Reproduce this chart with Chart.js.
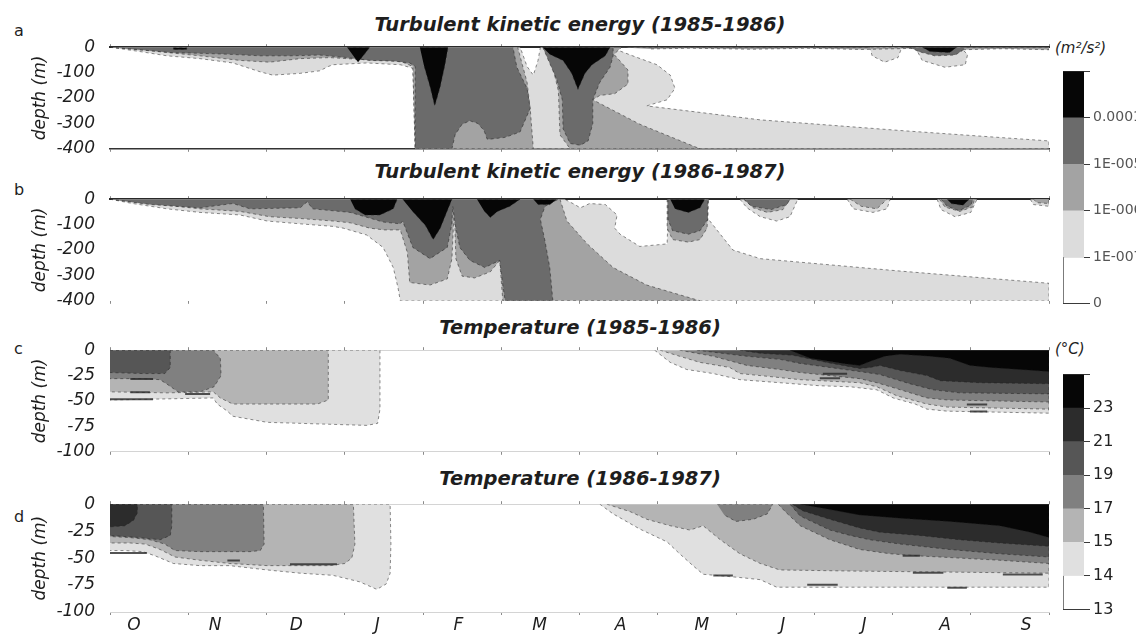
<!DOCTYPE html>
<html>
<head>
<meta charset="utf-8">
<script src="https://cdn.jsdelivr.net/npm/chart.js@4.4.1/dist/chart.umd.min.js"></script>
<style>
  html, body { margin: 0; padding: 0; background: #fff; }
  body { width: 1136px; height: 637px; position: relative; overflow: hidden; font-family: "DejaVu Sans", sans-serif; color: #1e1e1e; }
  .abs { position: absolute; }
  .title { left: 110px; width: 940px; text-align: center; font: italic bold 19.5px/19.5px "DejaVu Sans", sans-serif; white-space: nowrap; }
  .letter { left: 14px; font: 16px/16px "DejaVu Sans", sans-serif; }
  .unit { left: 1055px; font: italic 15px/15px "DejaVu Sans", sans-serif; white-space: nowrap; }
</style>
</head>
<body>
<div class="abs letter" style="top:23px">a</div>
<div class="abs letter" style="top:182px">b</div>
<div class="abs letter" style="top:341px">c</div>
<div class="abs letter" style="top:509px">d</div>

<div class="abs title" style="top:15px">Turbulent kinetic energy (1985-1986)</div>
<div class="abs title" style="top:162px">Turbulent kinetic energy (1986-1987)</div>
<div class="abs title" style="top:318px">Temperature (1985-1986)</div>
<div class="abs title" style="top:469px">Temperature (1986-1987)</div>

<div class="abs unit" style="top:41px">(m²/s²)</div>
<div class="abs unit" style="top:342px">(°C)</div>

<div class="abs" style="left:0;top:30px"><canvas id="panelA" width="1060" height="136"></canvas></div>
<div class="abs" style="left:0;top:182px"><canvas id="panelB" width="1060" height="136"></canvas></div>
<div class="abs" style="left:0;top:333px"><canvas id="panelC" width="1060" height="136"></canvas></div>
<div class="abs" style="left:0;top:487px"><canvas id="panelD" width="1060" height="150"></canvas></div>
<div class="abs" style="left:1040px;top:60px"><canvas id="barTke" width="96" height="255"></canvas></div>
<div class="abs" style="left:1040px;top:362px"><canvas id="barTemp" width="96" height="260"></canvas></div>

<script>
// ---- axis labels ----
const monthLabels = ['O', 'N', 'D', 'J', 'F', 'M', 'A', 'M', 'J', 'J', 'A', 'S'];
const tkeBarLabels = ['0', '1E-007', '1E-006', '1E-005', '0.0001'];
const tempBarLabels = ['13', '14', '15', '17', '19', '21', '23'];

// grey shades per contour class (index 0 = below the lowest level)
const tkeShades = ['#ffffff', '#dcdcdc', '#a3a3a3', '#6b6b6b', '#060606'];
const tempShades = ['#ffffff', '#e0e0e0', '#b4b4b4', '#808080', '#565656', '#2c2c2c', '#060606'];

// ---- contour outlines: [months since 1 October, depth in m] ----
// TKE 1985-1986
const tkeA_1_main = [[0,0],[0.38,-17],[0.73,-34],[1.15,-45],[1.57,-62],[1.92,-97],[2.08,-110],[2.43,-103],[2.68,-93],[2.79,-76],[2.85,-69],[3.28,-62],[3.71,-69],[3.87,-83],[3.90,-400],[12,-400],[12,-369],[10.10,-328],[8.31,-286],[6.86,-231],[7.12,-207],[7.22,-162],[7.16,-110],[6.99,-69],[6.68,-34],[6.45,-7],[6.43,0],[5.50,0],[5.47,-52],[5.41,-110],[5.33,-76],[5.27,-24],[5.24,0]];
const tkeA_1_e1 = [[9.71,0],[9.74,-34],[9.90,-59],[10.07,-41],[10.12,0]];
const tkeA_1_e2 = [[10.29,0],[10.38,-52],[10.67,-79],[10.93,-69],[10.96,-28],[10.86,0]];
const tkeA_2_main = [[0,0],[0.51,-14],[1.15,-34],[1.66,-52],[2.04,-59],[2.43,-45],[2.81,-41],[3.19,-48],[3.71,-55],[3.87,-76],[3.90,-400],[5.41,-400],[5.37,-241],[5.33,-138],[5.27,-69],[5.21,0]];
const tkeA_2_spike = [[5.56,0],[5.65,-69],[5.73,-172],[5.75,-345],[5.88,-400],[7.54,-400],[6.77,-303],[6.17,-207],[6.26,-190],[6.45,-183],[6.62,-145],[6.62,-90],[6.52,-55],[6.44,-28],[6.54,0]];
const tkeA_2_surf = [[6.5,0],[12,0],[12,-10],[11.4,-6],[10.9,-10],[10.2,-5],[9.6,-9],[8.9,-4],[8.2,-8],[7.4,-4],[6.9,-7]];
const tkeA_3_main = [[0,0],[0.38,-10],[0.77,-21],[1.15,-24],[1.53,-28],[1.92,-34],[2.30,-34],[2.68,-31],[3.03,-41],[3.32,-52],[3.64,-55],[3.83,-62],[3.90,-76],[3.90,-400],[4.37,-400],[4.41,-345],[4.50,-303],[4.60,-290],[4.70,-300],[4.78,-328],[4.82,-362],[4.86,-362],[5.05,-355],[5.24,-334],[5.37,-241],[5.33,-162],[5.20,-79],[5.15,0]];
const tkeA_3_spike = [[5.53,0],[5.71,-128],[5.78,-207],[5.79,-321],[5.88,-379],[6.01,-386],[6.11,-369],[6.17,-300],[6.17,-207],[6.26,-138],[6.39,-79],[6.43,-34],[6.43,0]];
const tkeA_3_e = [[10.22,0],[10.33,-17],[10.54,-34],[10.80,-31],[10.89,-14],[10.93,0]];
const tkeA_4_a = [[3.03,0],[3.32,0],[3.17,-59]];
const tkeA_4_b = [[0.81,-2],[0.98,-2],[0.98,-9],[0.81,-9]];
const tkeA_4_c = [[3.96,0],[4.32,0],[4.28,-69],[4.22,-155],[4.15,-231],[4.09,-155],[4.01,-69]];
const tkeA_4_d = [[5.53,0],[6.39,0],[6.33,-34],[6.16,-69],[6.07,-103],[5.98,-166],[5.90,-103],[5.79,-52],[5.62,-28]];
const tkeA_4_e = [[10.38,0],[10.48,-17],[10.73,-21],[10.82,0]];

// TKE 1986-1987
const tkeB_1_main = [[0,0],[0.29,-17],[0.73,-38],[1.15,-52],[1.66,-62],[2.01,-86],[2.43,-97],[2.85,-107],[2.98,-114],[3.28,-141],[3.49,-190],[3.62,-269],[3.68,-348],[3.71,-400],[12,-400],[12,-331],[10.10,-283],[8.31,-234],[7.96,-200],[7.80,-138],[7.63,-72],[7.62,0],[7.16,0],[7.13,-79],[7.12,-176],[6.77,-186],[6.52,-138],[6.45,-114],[6.48,-62],[6.33,-21],[6.13,-17],[6.01,-34],[5.94,-21],[5.81,0]];
const tkeB_1_e1 = [[8.05,0],[8.14,-34],[8.31,-69],[8.52,-86],[8.69,-69],[8.79,0]];
const tkeB_1_e2 = [[9.42,0],[9.50,-38],[9.75,-52],[9.93,-38],[9.97,0]];
const tkeB_1_e3 = [[10.57,0],[10.62,-41],[10.80,-69],[11.00,-52],[11.08,0]];
const tkeB_1_e4 = [[11.76,0],[11.80,-21],[12,-28],[12,0]];
const tkeB_2_main = [[0,0],[0.51,-17],[1.15,-38],[1.66,-48],[2.04,-69],[2.43,-76],[2.85,-86],[3.07,-93],[3.32,-114],[3.51,-121],[3.71,-121],[3.80,-210],[3.83,-328],[4.09,-338],[4.31,-314],[4.37,-234],[4.40,-28],[4.42,-234],[4.50,-303],[4.66,-310],[4.86,-286],[4.98,-241],[5.02,-400],[7.54,-400],[6.86,-338],[6.43,-269],[6.10,-176],[5.84,-86],[5.78,-28],[5.75,0]];
const tkeB_2_col = [[7.12,0],[7.12,-114],[7.19,-159],[7.39,-169],[7.54,-159],[7.63,-114],[7.65,0]];
const tkeB_2_e1 = [[8.10,0],[8.22,-34],[8.40,-52],[8.60,-41],[8.69,0]];
const tkeB_2_e2 = [[9.46,0],[9.60,-28],[9.80,-38],[9.93,0]];
const tkeB_2_e3 = [[10.60,0],[10.67,-31],[10.86,-48],[11.02,-31],[11.05,0]];
const tkeB_2_e4 = [[11.80,0],[11.85,-14],[12,-17],[12,0]];
const tkeB_3_main = [[0,0],[0.51,-21],[1.15,-34],[1.57,-17],[1.79,-38],[2.43,-34],[2.52,-10],[2.59,-38],[3.07,-52],[3.49,-90],[3.71,-97],[3.74,-86],[3.87,-190],[4.09,-234],[4.31,-190],[4.37,-97],[4.38,-28],[4.41,-97],[4.47,-190],[4.60,-241],[4.79,-269],[4.98,-241],[5.02,-338],[5.05,-400],[5.66,-400],[5.62,-269],[5.56,-166],[5.50,-79],[5.56,-28],[5.73,0]];
const tkeB_3_col = [[7.13,0],[7.13,-79],[7.19,-124],[7.39,-138],[7.54,-124],[7.64,-79],[7.64,0]];
const tkeB_3_e1 = [[8.10,0],[8.20,-28],[8.45,-41],[8.65,-21],[8.69,0]];
const tkeB_3_e2 = [[10.62,0],[10.70,-28],[10.85,-45],[11.00,-24],[11.03,0]];
const tkeB_4_a = [[3.07,0],[3.67,0],[3.62,-38],[3.45,-62],[3.26,-62],[3.13,-38]];
const tkeB_4_b = [[3.74,0],[4.37,0],[4.31,-45],[4.22,-114],[4.13,-159],[4.03,-103],[3.86,-45]];
const tkeB_4_c = [[4.69,0],[5.24,0],[5.11,-28],[4.95,-48],[4.86,-72],[4.78,-45]];
const tkeB_4_d = [[5.41,0],[5.71,0],[5.62,-21],[5.47,-21]];
const tkeB_4_e = [[7.16,0],[7.60,0],[7.54,-34],[7.39,-52],[7.22,-38]];
const tkeB_4_f = [[10.70,0],[10.75,-17],[10.90,-24],[10.98,0]];

// Temperature 1985-1986
const tempC_1_left = [[0,0],[3.45,0],[3.45,-58],[3.42,-72],[3.28,-74],[2.85,-73],[2.43,-72],[2.01,-71],[1.57,-65],[1.50,-60],[1.37,-53],[1.32,-47],[0,-49]];
const tempC_2_left = [[0,0],[2.79,0],[2.79,-49],[2.65,-53],[2.01,-53],[1.57,-53],[1.41,-47],[1.32,-41],[0.73,-42],[0,-41]];
const tempC_3_left = [[0,0],[1.32,0],[1.41,-8],[1.42,-25],[1.33,-36],[1.15,-41],[0.87,-41],[0.74,-34],[0.64,-29],[0.38,-28],[0,-28]];
const tempC_4_left = [[0,0],[0.77,0],[0.77,-17],[0.70,-23],[0.42,-23],[0,-22]];
const tempC_1_right = [[6.96,0],[7.16,-12],[7.37,-19],[7.71,-23],[8.05,-29],[8.56,-32],[9.07,-35],[9.46,-36],[9.80,-39],[10.01,-47],[10.29,-53],[10.44,-58],[10.70,-60],[11.37,-61],[12,-62],[12,0]];
const tempC_2_right = [[7.03,0],[7.28,-6],[7.54,-12],[7.92,-17],[8.05,-23],[8.31,-25],[8.82,-29],[9.58,-32],[9.80,-36],[10.06,-45],[10.44,-53],[10.70,-56],[12,-58],[12,0]];
const tempC_3_right = [[7.28,0],[7.71,-6],[8.14,-15],[8.56,-19],[8.82,-22],[9.58,-28],[9.80,-32],[10.06,-38],[10.44,-47],[10.70,-49],[12,-51],[12,0]];
const tempC_4_right = [[7.50,0],[8.14,-6],[8.56,-9],[8.82,-13],[9.58,-21],[9.84,-24],[10.22,-33],[10.52,-39],[10.86,-42],[12,-43],[12,0]];
const tempC_5_right = [[8.05,0],[8.31,-3],[8.73,-5],[9.16,-12],[9.58,-18],[9.71,-17],[9.84,-15],[10.10,-20],[10.44,-25],[10.61,-30],[11.12,-32],[12,-33],[12,0]];
const tempC_6_right = [[8.69,0],[8.95,-8],[9.37,-13],[9.58,-15],[9.71,-11],[9.90,-6],[10.10,-4],[10.48,-6],[10.73,-8],[10.99,-15],[11.25,-17],[11.63,-19],[12,-21],[12,0]];

// Temperature 1986-1987
const tempD_1_left = [[0,0],[3.58,0],[3.59,-37],[3.58,-64],[3.53,-74],[3.41,-79],[3.19,-72],[2.85,-66],[2.43,-64],[2.01,-61],[1.53,-57],[1.15,-57],[0.81,-55],[0.58,-48],[0.42,-44],[0.19,-43],[0,-43]];
const tempD_2_left = [[0,0],[3.11,0],[3.13,-37],[3.09,-50],[3.00,-55],[2.81,-57],[2.43,-57],[2.01,-57],[1.53,-55],[1.15,-52],[0.83,-49],[0.64,-42],[0.45,-37],[0.26,-36],[0,-36]];
const tempD_3_left = [[0,0],[1.96,0],[1.97,-37],[1.92,-43],[1.79,-44],[1.15,-44],[0.83,-43],[0.70,-37],[0.51,-33],[0.26,-31],[0,-30]];
const tempD_4_left = [[0,0],[0.79,0],[0.79,-20],[0.77,-29],[0.64,-33],[0.38,-31],[0.19,-30],[0,-29]];
const tempD_5_left = [[0,0],[0.35,0],[0.35,-8],[0.30,-15],[0.19,-20],[0,-21]];
const tempD_1_right = [[6.26,0],[6.43,-9],[6.77,-23],[7.12,-35],[7.28,-46],[7.45,-57],[7.58,-65],[8.05,-68],[8.31,-70],[8.52,-77],[10.10,-77],[12,-77],[12,0]];
const tempD_2_right = [[6.35,0],[6.65,-7],[6.86,-14],[7.16,-20],[7.41,-24],[7.58,-20],[7.80,-33],[8.05,-46],[8.31,-55],[8.56,-61],[9.46,-62],[10.73,-63],[12,-64],[12,0]];
const tempD_3_blob = [[7.76,0],[8.47,0],[8.40,-9],[8.22,-14],[8.00,-16],[7.85,-10]];
const tempD_3_right = [[8.54,0],[8.63,-7],[8.82,-20],[9.20,-33],[9.58,-42],[9.97,-46],[10.35,-48],[10.86,-50],[11.37,-52],[12,-55],[12,0]];
const tempD_4_right = [[8.69,0],[8.82,-11],[9.20,-24],[9.46,-29],[9.71,-33],[10.10,-37],[10.73,-42],[11.37,-46],[12,-49],[12,0]];
const tempD_5_right = [[8.72,0],[8.85,-6],[9.20,-14],[9.58,-22],[9.84,-26],[10.35,-29],[10.86,-33],[11.37,-36],[12,-39],[12,0]];
const tempD_6_right = [[8.82,0],[9.20,-5],[9.58,-10],[10.10,-13],[10.73,-16],[11.37,-20],[11.76,-26],[12,-31],[12,0]];

// short isotherm strokes drawn on top of the shading
const tempC_strokes = [[[0.26,-28.4],[0.55,-28.4]],[[0.26,-41.4],[0.51,-41.4]],[[0.96,-43],[1.28,-43]],[[0,-48.3],[0.55,-48.3]],[[9.11,-23.3],[9.42,-23.3]],[[9.07,-27.6],[9.33,-27.6]],[[10.95,-53.4],[11.21,-53.4]],[[10.99,-60.3],[11.21,-60.3]]];
const tempD_strokes = [[[0,-45.2],[0.47,-45.2]],[[1.50,-52.2],[1.66,-52.2]],[[2.30,-55.7],[2.90,-55.7]],[[7.71,-66.1],[7.96,-66.1]],[[8.91,-74.8],[9.30,-74.8]],[[10.26,-63.5],[10.65,-63.5]],[[10.70,-77.4],[10.95,-77.4]],[[11.41,-65.3],[11.92,-65.3]],[[10.13,-47.9],[10.35,-47.9]]];

// contour class of each outline
const panelA = [[1,tkeA_1_main],[1,tkeA_1_e1],[1,tkeA_1_e2],[2,tkeA_2_main],[2,tkeA_2_spike],[2,tkeA_2_surf],[3,tkeA_3_main],[3,tkeA_3_spike],[3,tkeA_3_e],[4,tkeA_4_a],[4,tkeA_4_b],[4,tkeA_4_c],[4,tkeA_4_d],[4,tkeA_4_e]];
const panelB = [[1,tkeB_1_main],[1,tkeB_1_e1],[1,tkeB_1_e2],[1,tkeB_1_e3],[1,tkeB_1_e4],[2,tkeB_2_main],[2,tkeB_2_col],[2,tkeB_2_e1],[2,tkeB_2_e2],[2,tkeB_2_e3],[2,tkeB_2_e4],[3,tkeB_3_main],[3,tkeB_3_col],[3,tkeB_3_e1],[3,tkeB_3_e2],[4,tkeB_4_a],[4,tkeB_4_b],[4,tkeB_4_c],[4,tkeB_4_d],[4,tkeB_4_e],[4,tkeB_4_f]];
const panelC = [[1,tempC_1_left],[2,tempC_2_left],[3,tempC_3_left],[4,tempC_4_left],[1,tempC_1_right],[2,tempC_2_right],[3,tempC_3_right],[4,tempC_4_right],[5,tempC_5_right],[6,tempC_6_right]];
const panelD = [[1,tempD_1_left],[2,tempD_2_left],[3,tempD_3_left],[4,tempD_4_left],[5,tempD_5_left],[1,tempD_1_right],[2,tempD_2_right],[3,tempD_3_blob],[3,tempD_3_right],[4,tempD_4_right],[5,tempD_5_right],[6,tempD_6_right]];

// month letters sit on their own axis (letter k at value k)
const monthLabelMin = -0.296;
const monthLabelMax = 11.282;

Chart.defaults.font.family = '"DejaVu Sans", sans-serif';
Chart.defaults.color = '#1e1e1e';

function polygonSets(patches, shades) {
  return patches.map(([lev, pts]) => ({
    data: pts.map(([x, y]) => ({ x, y })),
    showLine: true,
    fill: 'shape',
    backgroundColor: shades[lev],
    borderColor: 'rgba(30,30,30,0.5)',
    borderWidth: 1,
    borderDash: [3, 3],
    pointRadius: 0,
    pointHoverRadius: 0,
    tension: 0,
    order: 20 - lev
  }));
}

function strokeSets(strokes) {
  return strokes.map(seg => ({
    data: seg.map(([x, y]) => ({ x, y })),
    showLine: true,
    fill: false,
    borderColor: 'rgba(40,40,40,0.8)',
    borderWidth: 2,
    pointRadius: 0,
    pointHoverRadius: 0,
    order: 0
  }));
}

function monthTickAxis(position, border) {
  return {
    type: 'linear', min: 0, max: 12, position, weight: 0,
    ticks: { display: false, stepSize: 1 },
    grid: { display: true, drawOnChartArea: false, drawTicks: true, tickLength: 3, color: '#8a8a8a' },
    border,
    afterFit: s => { s.height = 0; }
  };
}

function drawPanel(id, patches, strokes, shades, depthMin, depthStep, borders, withMonths) {
  const scales = {
    x: monthTickAxis('bottom', borders.bottom),
    xt: monthTickAxis('top', borders.top),
    y: {
      type: 'linear', min: depthMin, max: 0, position: 'left',
      ticks: { stepSize: depthStep, padding: 7, color: '#1e1e1e', font: { size: 17, style: 'italic' }, callback: v => String(v) },
      grid: { display: false },
      border: { display: false },
      title: { display: true, text: 'depth (m)', color: '#1e1e1e', font: { size: 17, style: 'italic' }, padding: { top: 2, bottom: 0 } },
      afterFit: s => { s.width = 82; }
    }
  };
  if (withMonths) {
    scales.xm = {
      type: 'linear', min: monthLabelMin, max: monthLabelMax, position: 'bottom', weight: 1,
      afterBuildTicks: s => { s.ticks = monthLabels.map((_, i) => ({ value: i })); },
      ticks: {
        autoSkip: false, maxRotation: 0, padding: 3, color: '#1e1e1e',
        font: { size: 17, style: 'italic' },
        callback: v => monthLabels[v] ?? ''
      },
      grid: { display: false, drawTicks: false },
      border: { display: false },
      afterFit: s => { s.height = 25; }
    };
  }
  new Chart(document.getElementById(id), {
    type: 'scatter',
    data: { datasets: polygonSets(patches, shades).concat(strokeSets(strokes)) },
    options: {
      responsive: false, animation: false, devicePixelRatio: 1, events: [],
      plugins: { legend: { display: false }, tooltip: { enabled: false } },
      layout: { padding: { left: 28, right: 11, top: 10, bottom: withMonths ? 0 : 10 } },
      scales
    }
  });
}

function drawColorbar(id, shades, labels, fontSize, color) {
  new Chart(document.getElementById(id), {
    type: 'bar',
    data: {
      labels: [''],
      datasets: shades.map((c, i) => ({
        data: [1],
        backgroundColor: c,
        borderColor: '#3a3a3a',
        borderWidth: i === 0 ? { left: 1, top: 0, right: 0, bottom: 0 } : 0,
        borderSkipped: false,
        barPercentage: 1,
        categoryPercentage: 1
      }))
    },
    options: {
      responsive: false, animation: false, devicePixelRatio: 1, events: [],
      plugins: { legend: { display: false }, tooltip: { enabled: false } },
      layout: { padding: { left: 23, right: 0, top: 10, bottom: 10 } },
      scales: {
        x: { stacked: true, display: false },
        y: {
          stacked: true, position: 'right', min: 0, max: shades.length, z: 1,
          ticks: { stepSize: 1, autoSkip: false, padding: 3, color, font: { size: fontSize }, callback: v => labels[v] ?? '' },
          grid: { color: '#3a3a3a', lineWidth: 1, tickLength: 6, drawOnChartArea: true },
          border: { display: false },
          afterFit: s => { s.width = 52; }
        }
      }
    }
  });
}

const darkEdge = { display: true, color: '#2a2a2a', width: 2 };
const noEdge = { display: false };
const faintEdge = { display: true, color: '#d4d4d4', width: 1 };

drawPanel('panelA', panelA, [], tkeShades, -400, 100, { top: darkEdge, bottom: { display: true, color: '#333', width: 1.5 } }, false);
drawPanel('panelB', panelB, [], tkeShades, -400, 100, { top: darkEdge, bottom: noEdge }, false);
drawPanel('panelC', panelC, tempC_strokes, tempShades, -100, 25, { top: faintEdge, bottom: faintEdge }, false);
drawPanel('panelD', panelD, tempD_strokes, tempShades, -100, 25, { top: faintEdge, bottom: faintEdge }, true);

drawColorbar('barTke', tkeShades, tkeBarLabels, 14, '#555');
drawColorbar('barTemp', tempShades, tempBarLabels, 16, '#222');
</script>
</body>
</html>
